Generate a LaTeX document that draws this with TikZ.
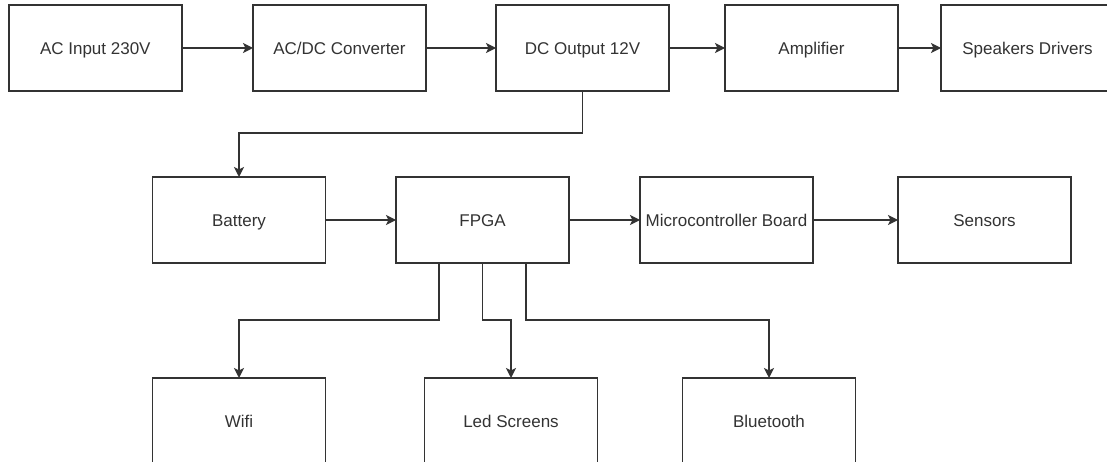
\documentclass[tikz,border=0pt]{standalone}
\usepackage{fontspec}
\setmainfont{Liberation Sans}
\usetikzlibrary{arrows.meta}
\definecolor{ln}{HTML}{333333}
\definecolor{tx}{HTML}{333333}
\tikzset{
  blk/.style={draw=ln, line width=1.6pt, fill=white, minimum width=173pt, minimum height=86pt,
    inner sep=0pt, outer sep=0pt, text=tx, text height=12.3pt, text depth=0pt,
    font=\fontsize{17}{20}\selectfont},
  arr/.style={draw=ln, line width=1.6pt, -{Stealth[length=10pt,width=10pt,inset=2.5pt]}},
}
\begin{document}
\begin{tikzpicture}[x=1pt,y=-1pt]
\useasboundingbox (0,0) rectangle (1107,462);
\fill[white] (0,0) rectangle (1107,462);
% row 1
\node[blk] (ac)   at (95.3,48)  {AC Input 230V};
\node[blk] (acdc) at (339.5,48) {AC/DC Converter};
\node[blk] (dc)   at (582.5,48) {DC Output 12V};
\node[blk] (amp)  at (811.5,48) {Amplifier};
\node[blk] (spk)  at (1027.5,48) {Speakers Drivers};
% row 2
\node[blk] (bat)   at (239,220)   {Battery};
\node[blk] (fpga)  at (482.5,220) {FPGA};
\node[blk] (micro) at (726.5,220) {Microcontroller Board};
\node[blk] (sens)  at (984.5,220) {Sensors};
% row 3
\node[blk] (wifi) at (239,421) {Wifi};
\node[blk] (led)  at (511,421) {Led Screens};
\node[blk] (bt)   at (769,421) {Bluetooth};
% connectors
\draw[arr] (ac) -- (acdc);
\draw[arr] (acdc) -- (dc);
\draw[arr] (dc) -- (amp);
\draw[arr] (amp) -- (spk);
\draw[arr] (dc.south) -- ++(0,42) -| (bat.north);
\draw[arr] (bat) -- (fpga);
\draw[arr] (fpga) -- (micro);
\draw[arr] (micro) -- (sens);
\draw[arr] ([xshift=-43.5pt]fpga.south) -- ++(0,57) -| (wifi.north);
\draw[arr] (fpga.south) -- ++(0,57) -| (led.north);
\draw[arr] ([xshift=43.5pt]fpga.south) -- ++(0,57) -| (bt.north);
\end{tikzpicture}
\end{document}
